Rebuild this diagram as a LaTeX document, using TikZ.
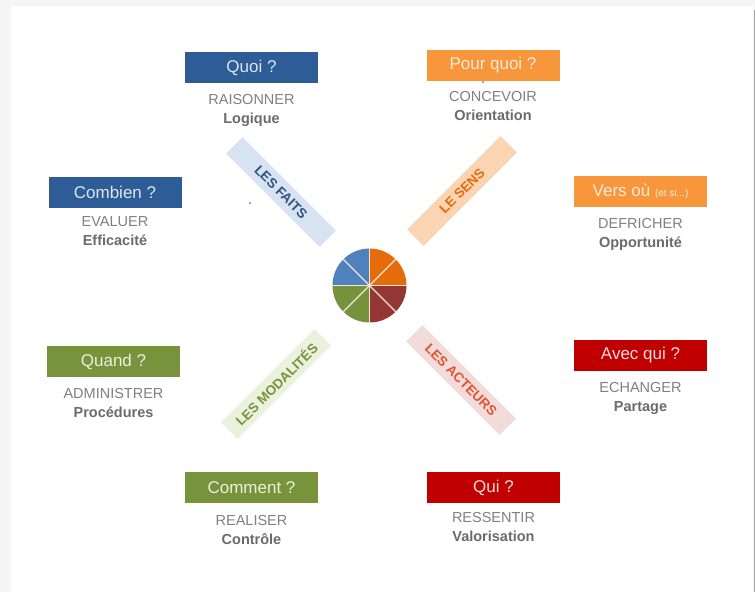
\documentclass[tikz,border=0pt]{standalone}
\usepackage{fontspec}
\setmainfont{Liberation Sans}
\usetikzlibrary{positioning}

\definecolor{qblue}{HTML}{2E5C96}
\definecolor{qorange}{HTML}{F7963A}
\definecolor{qgreen}{HTML}{77933C}
\definecolor{qred}{HTML}{C00000}
\definecolor{tblue}{HTML}{DCE6F2}
\definecolor{torange}{HTML}{FDEADA}
\definecolor{tgreen}{HTML}{EBF1DE}
\definecolor{tred}{HTML}{F2DCDB}
\definecolor{verbgray}{HTML}{808080}
\definecolor{boldgray}{HTML}{6B6B6B}
\definecolor{pieblue}{HTML}{4F81BD}
\definecolor{pieorange}{HTML}{E46C0A}
\definecolor{piered}{HTML}{943634}
\definecolor{piegreen}{HTML}{76923C}
\definecolor{pieline}{HTML}{F3E6D3}
\definecolor{bandblue}{HTML}{D8E3F2}
\definecolor{bandorange}{HTML}{FBD4B4}
\definecolor{bandgreen}{HTML}{EAF1DD}
\definecolor{bandred}{HTML}{F2DBDB}
\definecolor{txtblue}{HTML}{2F5486}
\definecolor{txtred}{HTML}{E2532F}

\tikzset{
  qbox/.style={minimum width=133pt, minimum height=31pt, inner sep=0pt,
    font=\fontsize{17}{17}\selectfont},
  verb/.style={align=center, text=verbgray, inner sep=0pt,
    font=\fontsize{14.5}{19}\selectfont},
  band/.style={minimum width=132pt, minimum height=23pt, inner sep=0pt,
    font=\bfseries\fontsize{13.5}{13.5}\selectfont},
}
\newcommand{\qual}[1]{\textbf{\color{boldgray}#1}}

\begin{document}
\begin{tikzpicture}[x=1pt,y=-1pt]
\useasboundingbox (0,0) rectangle (755,592);
% frame
\fill[gray!8] (0,0) rectangle (755,592);
\fill[white] (11,6) rectangle (753,592);
\draw[gray!70, line width=1pt] (754,10) -- (754,592);

% question boxes
\node[qbox, fill=qblue, text=tblue] (quoi) at (251.5,67.5) {Quoi ?};
\node[qbox, fill=qorange, text=torange] (pourquoi) at (493,65) {Pour quoi ?};
\node[qbox, fill=qblue, text=tblue] (combien) at (115,192) {Combien ?};
\node[qbox, fill=qorange, text=torange] (versou) at (640.5,191.5)
  {Vers où {\fontsize{10}{10}\selectfont(et si...)}};
\node[qbox, fill=qgreen, text=tgreen] (quand) at (113.5,361.5) {Quand ?};
\node[qbox, fill=qred, text=tred] (avecqui) at (640.5,355.5) {Avec qui ?};
\node[qbox, fill=qgreen, text=tgreen] (comment) at (251.5,487.5) {Comment ?};
\node[qbox, fill=qred, text=tred] (qui) at (493.5,487.5) {Qui ?};

% verbs
\node[verb, below=11pt of quoi] (quoiv) {RAISONNER\\\qual{Logique}};
\node[verb, below=10pt of pourquoi] (pourquoiv) {CONCEVOIR\\\qual{Orientation}};
\node[verb, below=9pt of combien] (combienv) {EVALUER\\\qual{Efficacité}};
\node[verb, below=11pt of versou] (versouv) {DEFRICHER\\\qual{Opportunité}};
\node[verb, below=11pt of quand] (quandv) {ADMINISTRER\\\qual{Procédures}};
\node[verb, below=11pt of avecqui] (avecquiv) {ECHANGER\\\qual{Partage}};
\node[verb, below=12pt of comment] (commentv) {REALISER\\\qual{Contrôle}};
\node[verb, below=9pt of qui] (quiv) {RESSENTIR\\\qual{Valorisation}};

% bands
\node[band, fill=bandblue, text=txtblue, rotate=-45] (faits) at (281,192) {LES FAITS};
\node[band, fill=bandorange, text=pieorange, rotate=45] (sens) at (462,191) {LE SENS};
\node[band, fill=bandgreen, text=qgreen, rotate=45] (modalites) at (276,384) {LES MODALITÉS};
\node[band, fill=bandred, text=txtred, rotate=-45] (acteurs) at (461,380) {LES ACTEURS};

% pie
\coordinate (pc) at (369.5,285.5);
\fill[pieblue] (pc) -- ++(180:37) arc[start angle=180, end angle=270, radius=37] -- cycle;
\fill[pieorange] (pc) -- ++(270:37) arc[start angle=270, end angle=360, radius=37] -- cycle;
\fill[piered] (pc) -- ++(0:37) arc[start angle=0, end angle=90, radius=37] -- cycle;
\fill[piegreen] (pc) -- ++(90:37) arc[start angle=90, end angle=180, radius=37] -- cycle;
\foreach \a in {0,45,...,315}
  \draw[pieline, line width=1.3pt] (pc) -- ++(\a:37);

% stray dots
\fill[black!70] (250,203) circle (0.8);
\fill[black!70] (483,82) circle (0.8);
\end{tikzpicture}
\end{document}
